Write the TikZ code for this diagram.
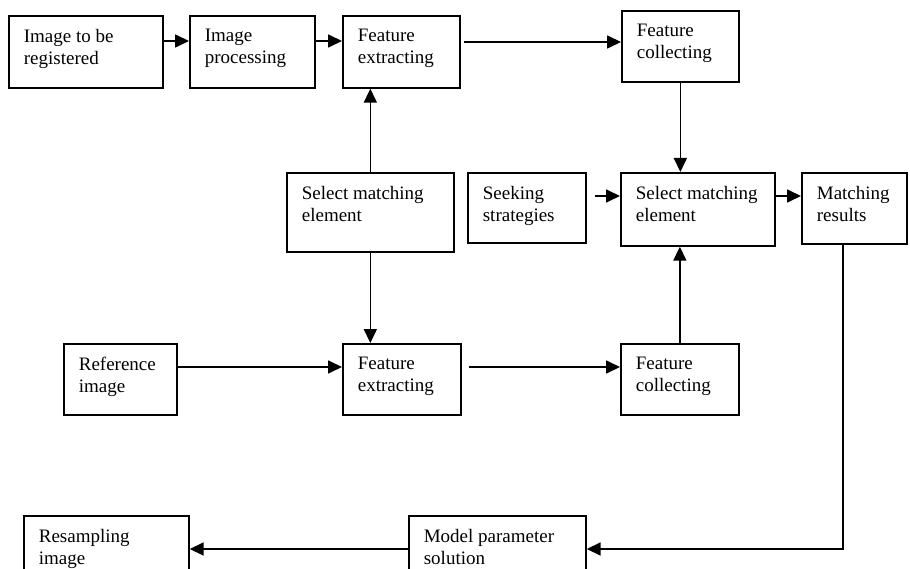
\documentclass[tikz,border=0pt]{standalone}
\usepackage{fontspec}
\setmainfont{Liberation Serif}
\usetikzlibrary{arrows.meta,calc}
\newcommand{\boxtext}[3]{\parbox[c][#2][t]{#1}{\leftskip=15pt\rightskip=0pt plus 1fil\parfillskip=0pt plus 1fil\vspace*{13pt}#3}}

\begin{document}
\begin{tikzpicture}[x=1pt, y=-1pt,
  font={\fontsize{19}{22}\selectfont},
  blk/.style={draw, line width=1.7pt, inner sep=0pt, anchor=north west},
  arr/.style={-{Triangle[length=14pt,width=13pt]}, line width=1.7pt}]
\useasboundingbox (0,0) rectangle (910,569);
\clip (0,0) rectangle (910,569);
% image to be registered
\node[blk] (reg) at (8,15) {\boxtext{154pt}{72pt}{Image to be\\registered}};
\node[blk] (proc) at (189,15) {\boxtext{125pt}{72pt}{Image\\processing}};
\node[blk] (extA) at (342,15) {\boxtext{117pt}{72pt}{Feature\\extracting}};
\node[blk] (collA) at (621,10) {\boxtext{117pt}{71pt}{Feature\\collecting}};
% matching
\node[blk] (selA) at (286,172) {\boxtext{167pt}{79pt}{Select matching\\element}};
\node[blk] (seek) at (467,172) {\boxtext{118pt}{70pt}{Seeking\\strategies}};
\node[blk] (selB) at (620,172) {\boxtext{154pt}{73pt}{Select matching\\element}};
\node[blk] (res) at (801,172) {\boxtext{105pt}{71pt}{Matching\\results}};
% reference image
\node[blk] (ref) at (63,343) {\boxtext{113pt}{71pt}{Reference\\image}};
\node[blk] (extB) at (342,343) {\boxtext{118pt}{71pt}{Feature\\extracting}};
\node[blk] (collB) at (620,343) {\boxtext{118pt}{71pt}{Feature\\collecting}};
% result
\node[blk] (model) at (408,515) {\boxtext{177pt}{80pt}{Model parameter\\solution}};
\node[blk] (resamp) at (23,515) {\boxtext{165pt}{80pt}{Resampling\\image}};
\coordinate (bend) at (843,549);

\draw[arr] ($(reg.north east)+(0,26)$) -- ($(proc.north west)+(0,26)$);
\draw[arr] ($(proc.north east)+(0,26)$) -- ($(extA.north west)+(0,26)$);
\draw[arr, shorten <=3pt] ($(extA.north east)+(0,27)$) -- ($(collA.north west)+(0,32)$);
\draw[arr] (selA.north) -- (selA.north |- extA.south);
\draw[arr] (selA.south) -- (selA.south |- extB.north);
\draw[arr] (collA.south) -- (collA.south |- selB.north);
\draw[arr] (collB.north) -- (collB.north |- selB.south);
\draw[arr, shorten <=8pt] ($(seek.north east)+(0,24)$) -- ($(selB.north west)+(0,24)$);
\draw[arr] ($(selB.north east)+(0,24)$) -- ($(res.north west)+(0,24)$);
\draw[arr] ($(ref.north east)+(0,24)$) -- ($(extB.north west)+(0,24)$);
\draw[arr, shorten <=7pt] ($(extB.north east)+(0,24)$) -- ($(collB.north west)+(0,24)$);
\draw[arr] (res.south -| bend) -- (bend) -- (bend -| model.east);
\draw[arr] ($(model.north west)+(0,34)$) -- ($(resamp.north east)+(0,34)$);
\end{tikzpicture}
\end{document}
